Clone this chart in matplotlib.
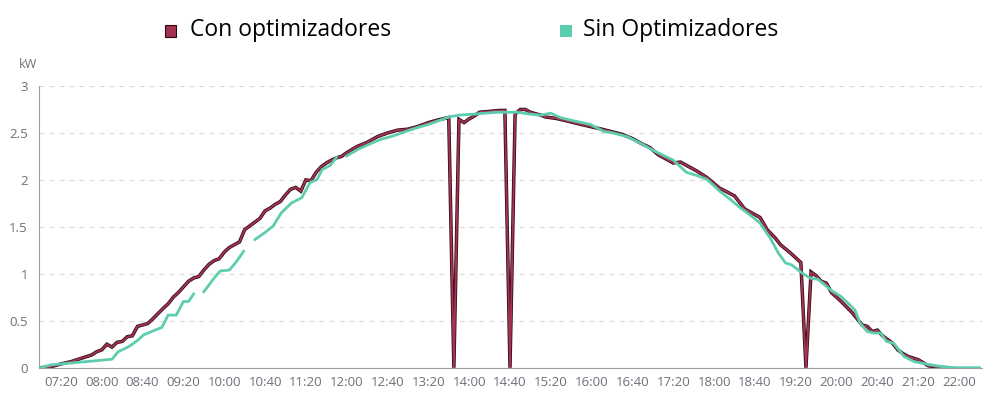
import numpy as np
import matplotlib
matplotlib.use("Agg")
import matplotlib.pyplot as plt
import matplotlib.patheffects as pe
from matplotlib.patches import Rectangle

plt.rcParams["font.family"] = ["Open Sans", "DejaVu Sans"]

# time stamps (HH:MM) and power in kW
CON_TIMES = [
    "07:00", "07:10", "07:20", "07:30", "07:40", "07:50", "07:55", "08:00", "08:05", "08:10",
    "08:15", "08:20", "08:25", "08:30", "08:35", "08:45", "08:50", "09:00", "09:05", "09:10",
    "09:15", "09:20", "09:25", "09:30", "09:35", "09:40", "09:45", "09:50", "09:55", "10:00",
    "10:05", "10:10", "10:15", "10:20", "10:25", "10:30", "10:35", "10:40", "10:45", "10:50",
    "10:55", "11:00", "11:05", "11:10", "11:15", "11:20", "11:25", "11:30", "11:35", "11:40",
    "11:45", "11:50", "11:55", "12:00", "12:10", "12:20", "12:25", "12:30", "12:40", "12:50",
    "13:00", "13:10", "13:20", "13:30", "13:40", "13:45", "13:50", "13:55", "14:00", "14:05",
    "14:10", "14:20", "14:30", "14:35", "14:40", "14:45", "14:50", "14:55", "15:00", "15:10",
    "15:15", "15:25", "15:35", "15:50", "16:10", "16:30", "16:40", "16:50", "16:57", "17:05",
    "17:20", "17:27", "17:43", "17:53", "18:05", "18:20", "18:30", "18:45", "18:52", "19:00",
    "19:05", "19:15", "19:25", "19:30", "19:35", "19:40", "19:45", "19:50", "19:55", "20:05",
    "20:15", "20:25", "20:30", "20:35", "20:40", "20:45", "20:55", "21:00", "21:05", "21:10",
    "21:20", "21:30", "21:40", "21:50",
]
CON_KW = [
    0.00, 0.01, 0.04, 0.065, 0.10, 0.135, 0.17, 0.19, 0.25, 0.22,
    0.27, 0.28, 0.33, 0.34, 0.44, 0.47, 0.52, 0.63, 0.68, 0.75,
    0.80, 0.86, 0.92, 0.955, 0.97, 1.04, 1.10, 1.14, 1.16, 1.23,
    1.28, 1.31, 1.34, 1.47, 1.51, 1.55, 1.59, 1.67, 1.70, 1.74,
    1.77, 1.84, 1.90, 1.92, 1.88, 2.00, 1.99, 2.08, 2.14, 2.18,
    2.21, 2.235, 2.25, 2.29, 2.355, 2.40, 2.43, 2.46, 2.50, 2.53,
    2.54, 2.57, 2.61, 2.64, 2.665, 0.00, 2.645, 2.61, 2.65, 2.68,
    2.72, 2.73, 2.74, 2.74, 0.00, 2.70, 2.75, 2.75, 2.72, 2.69,
    2.67, 2.655, 2.63, 2.59, 2.54, 2.485, 2.44, 2.38, 2.345, 2.27,
    2.18, 2.19, 2.095, 2.025, 1.915, 1.83, 1.69, 1.60, 1.47, 1.38,
    1.31, 1.22, 1.12, 0.00, 1.02, 0.98, 0.92, 0.90, 0.80, 0.70,
    0.59, 0.455, 0.44, 0.385, 0.40, 0.34, 0.26, 0.19, 0.15, 0.12,
    0.085, 0.02, 0.005, 0.00,
]

SIN_TIMES = [
    "07:00", "07:10", "07:30", "07:50", "08:10", "08:16", "08:22", "08:28", "08:35", "08:41",
    "08:50", "08:59", "09:05", "09:13", "09:20", "09:25", "09:30", "09:35", "09:40", "09:45",
    "09:49", "09:56", "10:05", "10:12", "10:19", "10:25", "10:30", "10:40", "10:48", "10:56",
    "11:06", "11:16", "11:24", "11:31", "11:36", "11:44", "11:50", "11:55", "12:00", "12:11",
    "12:22", "12:33", "12:46", "12:59", "13:10", "13:20", "13:30", "13:40", "13:50", "14:04",
    "14:15", "14:27", "14:47", "15:00", "15:10", "15:20", "15:29", "15:42", "15:59", "16:12",
    "16:21", "16:35", "16:48", "17:01", "17:20", "17:33", "17:45", "17:53", "18:06", "18:15",
    "18:26", "18:36", "18:45", "18:55", "19:03", "19:10", "19:16", "19:26", "19:34", "19:42",
    "19:54", "20:04", "20:12", "20:18", "20:23", "20:30", "20:36", "20:43", "20:49", "20:56",
    "21:06", "21:16", "21:29", "21:48", "22:00", "22:20",
]
SIN_KW = [
    0.00, 0.03, 0.05, 0.07, 0.09, 0.17, 0.20, 0.235, 0.29, 0.35,
    0.39, 0.43, 0.56, 0.56, 0.705, 0.705, 0.785, np.nan, 0.81, 0.88,
    0.94, 1.03, 1.04, 1.13, 1.24, np.nan, 1.365, 1.44, 1.51, 1.65,
    1.755, 1.81, 1.97, 2.005, 2.11, 2.155, 2.24, np.nan, 2.255, 2.325,
    2.38, 2.43, 2.47, 2.52, 2.56, 2.59, 2.63, 2.67, 2.69, 2.70,
    2.71, 2.72, 2.72, 2.70, 2.69, 2.71, 2.665, 2.63, 2.59, 2.515,
    2.50, 2.46, 2.39, 2.31, 2.21, 2.08, 2.04, 2.005, 1.875, 1.80,
    1.70, 1.62, 1.54, 1.38, 1.22, 1.115, 1.095, 1.01, 0.955, 0.94,
    0.83, 0.76, 0.68, 0.615, 0.475, 0.385, 0.37, 0.37, 0.28, 0.26,
    0.12, 0.065, 0.036, 0.005, 0.00, 0.00,
]

TICK_LABELS = ["07:20", "08:00", "08:40", "09:20", "10:00", "10:40", "11:20", "12:00",
               "12:40", "13:20", "14:00", "14:40", "15:20", "16:00", "16:40", "17:20",
               "18:00", "18:40", "19:20", "20:00", "20:40", "21:20", "22:00"]
Y_TICKS = [0, 0.5, 1, 1.5, 2, 2.5, 3]

CON_COLOR = "#A33350"
SIN_COLOR = "#5DCDB0"
GREY = "#6E7079"


def to_minutes(labels):
    return np.array([int(s[:2]) * 60 + int(s[3:]) for s in labels], dtype=float)


fig = plt.figure(figsize=(9.94, 3.97), dpi=100)
ax = fig.add_axes([39 / 994, 29.3 / 397, (982 - 39) / 994, (367.7 - 86) / 397])

ax.plot(to_minutes(SIN_TIMES), SIN_KW, color=SIN_COLOR, linewidth=2.0,
        solid_joinstyle="round", zorder=3)
ax.plot(to_minutes(CON_TIMES), CON_KW, color=CON_COLOR, linewidth=1.4,
        solid_joinstyle="miter", zorder=2,
        path_effects=[pe.Stroke(linewidth=2.5, foreground="#2B0A14"), pe.Normal()])

ax.set_xlim(418.5, 1342.5)
ax.set_ylim(0, 3)
ax.set_xticks(to_minutes(TICK_LABELS))
ax.set_xticklabels(TICK_LABELS)
ax.set_yticks(Y_TICKS)
ax.set_yticklabels(["0", "0.5", "1", "1.5", "2", "2.5", "3"])
ax.tick_params(axis="both", length=0, labelsize=9.5, labelcolor=GREY)
ax.tick_params(axis="x", pad=6)
ax.tick_params(axis="y", pad=8)

ax.set_axisbelow(True)
ax.grid(axis="y", linestyle=(0, (4, 4)), color="#DCDCDC", linewidth=0.9)
for side in ["top", "right"]:
    ax.spines[side].set_visible(False)
ax.spines["left"].set_color("#A0A0A0")
ax.spines["bottom"].set_color("#A0A0A0")

fig.text(28 / 994, 1 - 65 / 397, "kW", ha="center", va="center", fontsize=9, color=GREY)

# legend drawn by hand to sit where it does in the original
fig.patches.append(Rectangle((165 / 994, 1 - 37 / 397), 11 / 994, 12 / 397,
                             transform=fig.transFigure, facecolor=CON_COLOR,
                             edgecolor="#2B0A14", linewidth=0.8))
fig.text(190 / 994, 1 - 30.5 / 397, "Con optimizadores", ha="left", va="center",
         fontsize=16.5, color="black")
fig.patches.append(Rectangle((560 / 994, 1 - 37 / 397), 12 / 994, 12 / 397,
                             transform=fig.transFigure, facecolor=SIN_COLOR,
                             edgecolor="none"))
fig.text(583 / 994, 1 - 30.5 / 397, "Sin Optimizadores", ha="left", va="center",
         fontsize=16.5, color="black")

fig.savefig("out.png", dpi=100)
